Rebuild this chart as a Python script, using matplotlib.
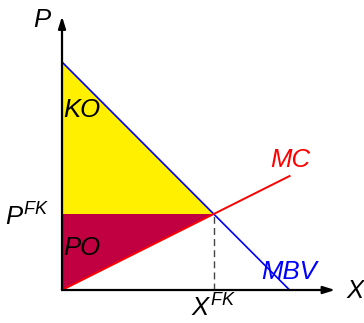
import numpy as np
import matplotlib as mpl
mpl.use('Agg')
import matplotlib.pyplot as plt

plt.rcParams['font.family'] = ['Liberation Sans', 'DejaVu Sans']
plt.rcParams['mathtext.fontset'] = 'custom'
plt.rcParams['mathtext.it'] = 'Liberation Sans:italic'
plt.rcParams['mathtext.rm'] = 'Liberation Sans'

# demand (MBV) and marginal cost (MC), linear
mbv_x = [0, 10]
mbv_p = [10, 0]
mc_x = [0, 10]
mc_p = [0, 5]
axis_max = 12

# intersection of the two lines
a1 = (mbv_p[1] - mbv_p[0]) / (mbv_x[1] - mbv_x[0])
a2 = (mc_p[1] - mc_p[0]) / (mc_x[1] - mc_x[0])
x_fk = (mc_p[0] - mbv_p[0]) / (a1 - a2)
p_fk = mbv_p[0] + a1 * x_fk

fig = plt.figure(figsize=(3.64, 3.23), dpi=100)
ax = fig.add_axes([0, 0, 1, 1])
ax.set_xlim(-2.725, 13.27)
ax.set_ylim(-1.447, 12.72)
ax.axis('off')

# surplus areas
ax.fill([0, 0, x_fk], [mbv_p[0], p_fk, p_fk], color='#fff000', lw=0)
ax.fill([0, 0, x_fk], [p_fk, mc_p[0], p_fk], color='#c00040', lw=0)

ax.plot(mbv_x, mbv_p, color='blue', lw=1.2)
ax.plot(mc_x, mc_p, color='red', lw=1.4)
ax.plot([x_fk, x_fk], [0, p_fk], color='#444444', lw=1, ls=(0, (5, 3)))

# axes with arrows
arr = dict(arrowstyle='-|>,head_length=0.7,head_width=0.22', color='black', lw=1.6,
           shrinkA=0, shrinkB=0)
ax.annotate('', xy=(0, axis_max), xytext=(0, 0), arrowprops=arr)
ax.annotate('', xy=(axis_max, 0), xytext=(0, 0), arrowprops=arr)

fs = 18.5
ax.text(-0.88, 11.54, 'P', fontsize=fs, style='italic', ha='center', va='baseline')
ax.text(12.88, -0.35, 'X', fontsize=fs, style='italic', ha='center', va='baseline')
ax.text(-0.53, 2.81, r'$P^{FK}$', fontsize=fs, ha='right', va='baseline')
ax.text(x_fk, -1.18, r'$X^{FK}$', fontsize=fs, ha='center', va='baseline')
ax.text(0.04, 7.59, 'KO', fontsize=fs, style='italic', ha='left', va='baseline')
ax.text(0.04, 1.54, 'PO', fontsize=fs, style='italic', ha='left', va='baseline')
ax.text(9.14, 5.39, 'MC', fontsize=fs, style='italic', color='red', ha='left', va='baseline')
ax.text(8.75, 0.48, 'MBV', fontsize=fs, style='italic', color='blue', ha='left', va='baseline')

plt.savefig('out.png', dpi=100)
